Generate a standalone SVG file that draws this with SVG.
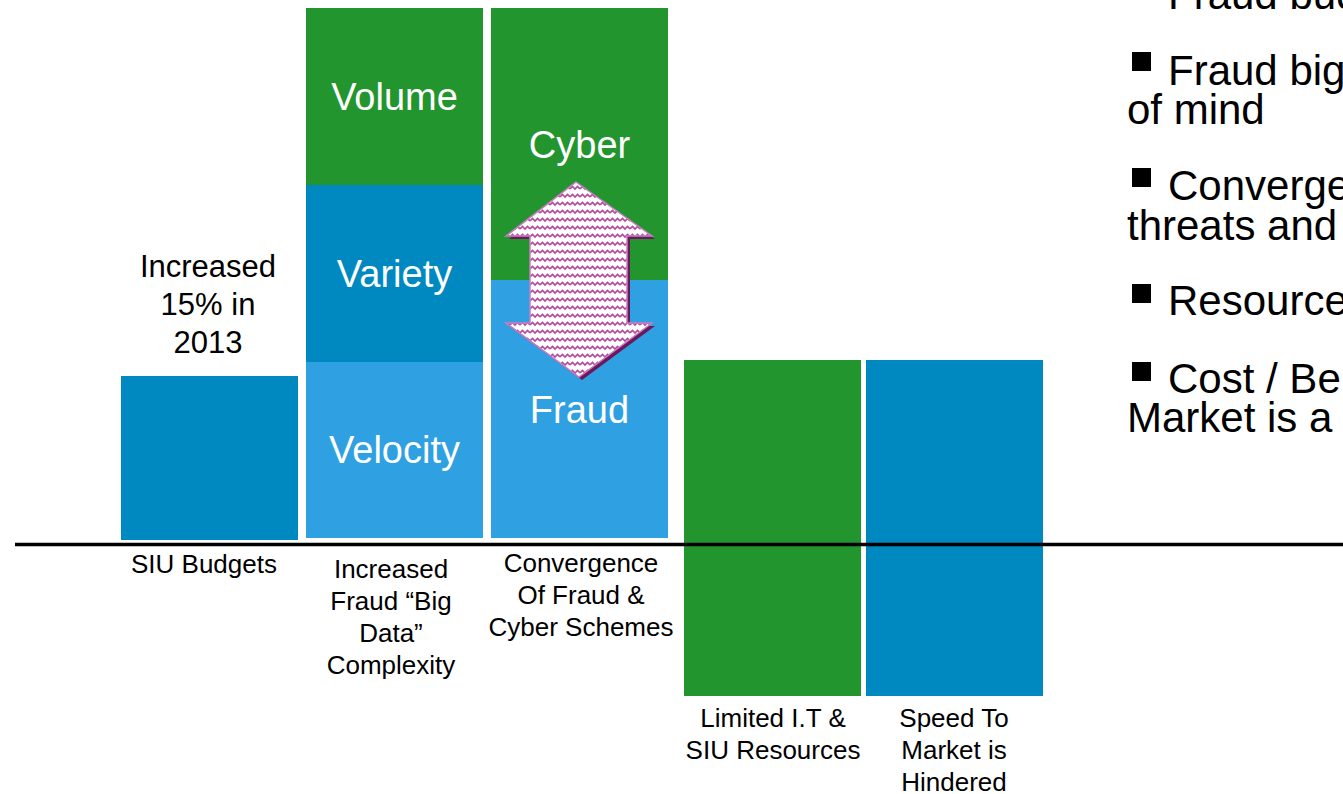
<svg xmlns="http://www.w3.org/2000/svg" width="1343" height="794" viewBox="0 0 1343 794">
  <style>
    .green { fill: #23952F; }
    .blue { fill: #0089C1; }
    .lblue { fill: #2FA0E2; }
    .big { font-family: "Liberation Sans", Arial, sans-serif; font-size: 38px; fill: #FFFFFF; text-anchor: middle; }
    .lbl { font-family: "Liberation Sans", Arial, sans-serif; font-size: 26px; fill: #000000; text-anchor: middle; }
    .mid { font-family: "Liberation Sans", Arial, sans-serif; font-size: 31px; fill: #000000; text-anchor: middle; }
    .side { font-family: "Liberation Sans", Arial, sans-serif; font-size: 42px; fill: #000000; }
  </style>
  <defs>
    <pattern id="zig" patternUnits="userSpaceOnUse" width="10" height="8">
      <rect width="10" height="8" fill="#FFFFFF"/>
      <path d="M0,5 L2.5,2.5 L5,5 L7.5,2.5 L10,5" fill="none" stroke="#B5489F" stroke-width="1.6"/>
    </pattern>
  </defs>
  <rect width="1343" height="794" fill="#FFFFFF"/>

  <g id="siu-budgets">
    <rect class="blue" x="121" y="376" width="177" height="164"/>
    <text class="mid" x="208" y="277">Increased</text>
    <text class="mid" x="208" y="315">15% in</text>
    <text class="mid" x="208" y="353">2013</text>
    <text class="lbl" x="204" y="573">SIU Budgets</text>
  </g>

  <g id="big-data">
    <rect class="green" x="306" y="8" width="177" height="177"/>
    <rect class="blue" x="306" y="185" width="177" height="177"/>
    <rect class="lblue" x="306" y="362" width="177" height="176"/>
    <text class="big" x="394.5" y="110">Volume</text>
    <text class="big" x="394.5" y="287">Variety</text>
    <text class="big" x="394.5" y="463">Velocity</text>
    <text class="lbl" x="391" y="578">Increased</text>
    <text class="lbl" x="391" y="610">Fraud “Big</text>
    <text class="lbl" x="391" y="642">Data”</text>
    <text class="lbl" x="391" y="674">Complexity</text>
  </g>

  <g id="convergence">
    <rect class="green" x="491" y="8" width="177" height="272"/>
    <rect class="lblue" x="491" y="280" width="177" height="258"/>
    <text class="big" x="579.5" y="158">Cyber</text>
    <text class="big" x="579.5" y="423">Fraud</text>
    <polygon points="579,185 655,239 630,239 630,326 655,326 582,380 509,326 533,326 533,239 509,239" fill="#6A1A5C"/>
    <polygon points="576,182 652,236 627,236 627,323 652,323 579,377 506,323 530,323 530,236 506,236" fill="url(#zig)" stroke="#C77DC2" stroke-width="1.5"/>
    <text class="lbl" x="581" y="572">Convergence</text>
    <text class="lbl" x="581" y="604">Of Fraud &amp;</text>
    <text class="lbl" x="581" y="636">Cyber Schemes</text>
  </g>

  <g id="limited-resources">
    <rect class="green" x="684" y="360" width="177" height="336"/>
    <text class="lbl" x="773" y="727">Limited I.T &amp;</text>
    <text class="lbl" x="773" y="759">SIU Resources</text>
  </g>

  <g id="speed-to-market">
    <rect class="blue" x="866" y="360" width="177" height="336"/>
    <text class="lbl" x="954" y="727">Speed To</text>
    <text class="lbl" x="954" y="759">Market is</text>
    <text class="lbl" x="954" y="791">Hindered</text>
  </g>

  <g id="connectors">
    <line x1="15" y1="544.5" x2="1343" y2="544.5" stroke="#000000" stroke-width="3.5"/>
  </g>

  <g id="bullets">
    <text class="side" x="1168" y="9">Fraud bud</text>
    <rect x="1132" y="52" width="19" height="19" fill="#000000"/>
    <text class="side" x="1168" y="85">Fraud big</text>
    <text class="side" x="1127" y="124">of mind</text>
    <rect x="1132" y="168" width="19" height="19" fill="#000000"/>
    <text class="side" x="1168" y="200">Converge</text>
    <text class="side" x="1127" y="240">threats and</text>
    <rect x="1132" y="284" width="19" height="19" fill="#000000"/>
    <text class="side" x="1168" y="315">Resource</text>
    <rect x="1132" y="362" width="19" height="19" fill="#000000"/>
    <text class="side" x="1168" y="393">Cost / Be</text>
    <text class="side" x="1127" y="432">Market is a</text>
  </g>
</svg>
